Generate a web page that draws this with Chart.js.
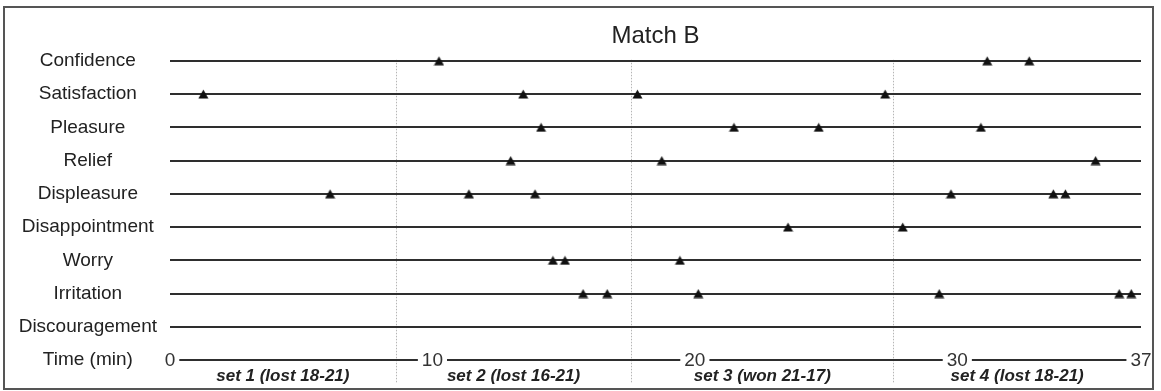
<!DOCTYPE html>
<html>
<head>
<meta charset="utf-8">
<title>Match B</title>
<script src="https://cdn.jsdelivr.net/npm/chart.js@4/dist/chart.umd.min.js"></script>
<style>
    html, body { margin: 0; padding: 0; background: #fff; }
    #wrap { width: 1161px; height: 391px; position: relative; }
</style>
</head>
<body>
<div id="wrap"><canvas id="matchChart" width="1161" height="391"></canvas></div>
<script>
const rowLabels = ["Confidence", "Satisfaction", "Pleasure", "Relief", "Displeasure", "Disappointment", "Worry", "Irritation", "Discouragement", "Time (min)"]

// minutes at which each emotion was reported
const confidence = [10.25, 31.14, 32.74]
const satisfaction = [1.27, 13.46, 17.81, 27.25]
const pleasure = [14.14, 21.49, 24.72, 30.9]
const relief = [12.98, 18.74, 35.27]
const displeasure = [6.1, 11.39, 13.91, 29.76, 33.66, 34.12]
const disappointment = [23.55, 27.92]
const worry = [14.59, 15.05, 19.43]
const irritation = [15.74, 16.66, 20.13, 29.31, 36.17, 36.63]
const discouragement = []

const timeTicks = [0, 10, 20, 30, 37]
const setEnds = [8.6, 17.58, 27.56]
const setLabels = ["set 1 (lost 18-21)", "set 2 (lost 16-21)", "set 3 (won 21-17)", "set 4 (lost 18-21)"]

const FONT = "'Liberation Sans', Arial, Helvetica, sans-serif"
const INK = "#222"

const emotions = [
    ["Confidence", confidence],
    ["Satisfaction", satisfaction],
    ["Pleasure", pleasure],
    ["Relief", relief],
    ["Displeasure", displeasure],
    ["Disappointment", disappointment],
    ["Worry", worry],
    ["Irritation", irritation],
    ["Discouragement", discouragement]
]

// small filled triangle, centred on the line
const tri = document.createElement("canvas")
tri.width = 11
tri.height = 10
const tctx = tri.getContext("2d")
tctx.fillStyle = "#111"
tctx.beginPath()
tctx.moveTo(5.5, 0.5)
tctx.lineTo(10.5, 9.5)
tctx.lineTo(0.5, 9.5)
tctx.closePath()
tctx.fill()

const datasets = emotions.map(([name, times]) => ({
    label: name,
    data: times.map(t => ({ x: t, y: name })),
    pointStyle: tri,
    pointRadius: 5,
    pointHoverRadius: 5,
    clip: false
}))

const decorations = {
    id: "decorations",
    beforeDraw(chart) {
        const { ctx, scales: { x, y } } = chart
        ctx.save()
        ctx.strokeStyle = "#b5b5b5"
        ctx.lineWidth = 1
        ctx.setLineDash([1.5, 1.5])
        setEnds.forEach(v => {
            const px = Math.round(x.getPixelForValue(v)) + 0.5
            ctx.beginPath()
            ctx.moveTo(px, y.top - 1)
            ctx.lineTo(px, y.bottom + 23)
            ctx.stroke()
        })
        ctx.restore()
    },
    afterDraw(chart) {
        const { ctx, scales: { x, y } } = chart
        const timeY = y.getPixelForValue(rowLabels.indexOf("Time (min)"))
        ctx.save()
        ctx.font = "19px " + FONT
        ctx.textAlign = "center"
        ctx.textBaseline = "middle"
        timeTicks.forEach(v => {
            const px = x.getPixelForValue(v)
            const w = ctx.measureText(String(v)).width
            ctx.fillStyle = "#fff"
            ctx.fillRect(px - w / 2 - 4, timeY - 6, w + 8, 12)
            ctx.fillStyle = "#333"
            ctx.fillText(String(v), px, timeY + 1)
        })

        const bounds = [x.min, ...setEnds, x.max]
        ctx.font = "italic bold 17px " + FONT
        ctx.fillStyle = INK
        setLabels.forEach((label, i) => {
            const mid = (x.getPixelForValue(bounds[i]) + x.getPixelForValue(bounds[i + 1])) / 2
            ctx.fillText(label, mid, timeY + 16)
        })

        ctx.strokeStyle = "#555"
        ctx.lineWidth = 2
        ctx.setLineDash([])
        ctx.strokeRect(4, 7, 1149, 382)
        ctx.restore()
    }
}

new Chart(document.getElementById("matchChart"), {
    type: "scatter",
    data: { datasets: datasets },
    options: {
        responsive: false,
        animation: false,
        events: [],
        layout: {
            padding: { left: 15, right: 20, top: 0, bottom: 31 }
        },
        plugins: {
            legend: { display: false },
            tooltip: { enabled: false },
            title: {
                display: true,
                fullSize: false,
                text: "Match B",
                color: INK,
                font: { family: FONT, size: 24, weight: "normal" },
                padding: { top: 22, bottom: 10 }
            }
        },
        scales: {
            x: {
                type: "linear",
                display: false,
                min: 0,
                max: 37
            },
            y: {
                type: "category",
                labels: rowLabels,
                offset: false,
                afterFit: scale => { scale.width = 155 },
                border: { display: false },
                grid: {
                    color: "#2e2e2e",
                    lineWidth: 2,
                    drawTicks: false
                },
                ticks: {
                    color: INK,
                    padding: 13,
                    crossAlign: "center",
                    font: { family: FONT, size: 19 }
                }
            }
        }
    },
    plugins: [decorations]
})
</script>
</body>
</html>
